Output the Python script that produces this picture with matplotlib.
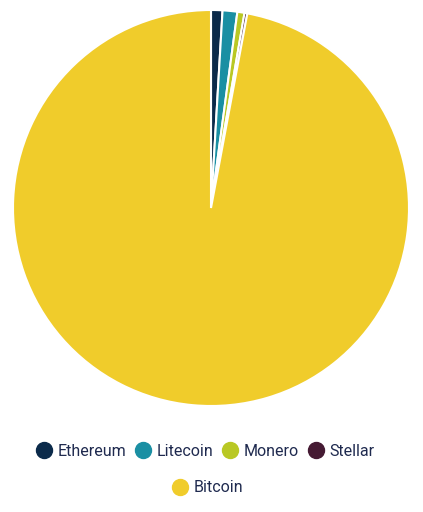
import matplotlib.pyplot as plt
from matplotlib.lines import Line2D

plt.rcParams['font.family'] = ['Roboto', 'DejaVu Sans']

coins = ["Ethereum", "Litecoin", "Monero", "Stellar", "Bitcoin"]
shares = [0.93, 1.2, 0.58, 0.23, 97.06]
colors = ["#0b2a4a", "#1a8fa3", "#b9c824", "#451a33", "#f0cc2b"]
text_color = "#1f2a4f"

fig = plt.figure(figsize=(4.23, 5.12), dpi=100)
ax = fig.add_axes([13 / 423, 106 / 512, 396 / 423, 396 / 512])
ax.pie(shares, colors=colors, startangle=90, counterclock=False,
       wedgeprops=dict(edgecolor="white", linewidth=1.5))
ax.set_xlim(-1, 1)
ax.set_ylim(-1, 1)
ax.set_aspect("equal")
ax.axis("off")


def handles(names):
    return [Line2D([], [], marker="o", linestyle="none", markersize=11.5,
                   markerfacecolor=colors[coins.index(n)],
                   markeredgecolor=colors[coins.index(n)]) for n in names]


row1 = coins[:4]
fig.legend(handles(row1), row1, loc="center", bbox_to_anchor=(0.485, 1 - 451 / 512),
           ncol=4, frameon=False, fontsize=11.5, handletextpad=0.35,
           columnspacing=0.55, handlelength=1.0, labelcolor=text_color)
fig.legend(handles(["Bitcoin"]), ["Bitcoin"], loc="center", bbox_to_anchor=(0.49, 1 - 488 / 512),
           frameon=False, fontsize=11.5, handletextpad=0.35, handlelength=1.0,
           labelcolor=text_color)

fig.savefig("out.png", dpi=100)
